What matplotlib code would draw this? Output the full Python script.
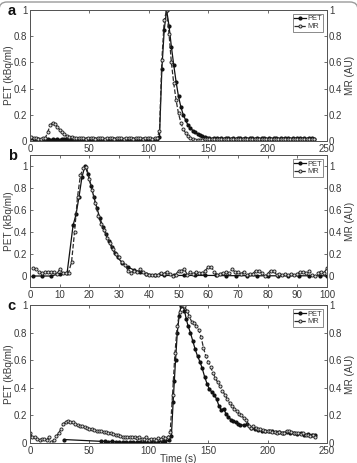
import numpy as np
import matplotlib
matplotlib.use("Agg")
import matplotlib.pyplot as plt
from matplotlib.patches import FancyBboxPatch

# ---------------- data ----------------
# Panel a (sampling every 2 s, 1..239 s)
t_a = np.arange(1, 241, 2)
pet_a = [0.02, 0.015, 0.012, 0.012, 0.01, 0.012, 0.01, 0.012, 0.01, 0.012,
         0.01, 0.012, 0.01, 0.012, 0.015, 0.012, 0.01, 0.012, 0.01, 0.012,
         0.012, 0.01, 0.012, 0.015, 0.01, 0.012, 0.01, 0.012, 0.014, 0.01,
         0.012, 0.01, 0.015, 0.012, 0.01, 0.012, 0.014, 0.01, 0.012, 0.01,
         0.012, 0.015, 0.01, 0.012, 0.01, 0.012, 0.015, 0.012, 0.01, 0.012,
         0.012, 0.01, 0.012, 0.015,
         0.03, 0.55, 0.85, 1.0, 0.88, 0.72, 0.58, 0.45, 0.34, 0.26,
         0.2, 0.16, 0.12, 0.1, 0.08, 0.065, 0.055, 0.045, 0.035, 0.03,
         0.025,
         0.02, 0.018, 0.02, 0.02, 0.018, 0.02, 0.018, 0.02, 0.02, 0.018,
         0.02, 0.018, 0.02, 0.02, 0.018, 0.02, 0.018, 0.02, 0.02, 0.018,
         0.02, 0.018, 0.02, 0.02, 0.018, 0.02, 0.018, 0.02, 0.02, 0.018,
         0.02, 0.018, 0.02, 0.02, 0.018, 0.02, 0.018, 0.02, 0.02, 0.018,
         0.02, 0.018, 0.02, 0.02, 0.018]
mr_a = [0.03, 0.02, 0.02, 0.018, 0.018, 0.02, 0.025, 0.07, 0.12, 0.14,
        0.13, 0.11, 0.085, 0.065, 0.05, 0.04, 0.03, 0.028, 0.025, 0.025,
        0.02, 0.022, 0.02, 0.018, 0.02, 0.022, 0.02, 0.018, 0.02, 0.022,
        0.02, 0.018, 0.02, 0.022, 0.02, 0.018, 0.02, 0.022, 0.02, 0.018,
        0.02, 0.022, 0.02, 0.018, 0.02, 0.022, 0.02, 0.018, 0.02, 0.022,
        0.02, 0.018, 0.02, 0.022,
        0.08, 0.62, 0.92, 1.0, 0.82, 0.6, 0.44, 0.31, 0.21, 0.14,
        0.09, 0.06, 0.04, 0.025, 0.015, 0.01, 0.005, 0.005, 0.01,
        0.015, 0.012, 0.015, 0.018, 0.015, 0.012, 0.015, 0.018, 0.015, 0.012,
        0.015, 0.018, 0.015, 0.012, 0.015, 0.018, 0.015, 0.012, 0.015, 0.018,
        0.015, 0.012, 0.015, 0.018, 0.015, 0.012, 0.015, 0.018, 0.015, 0.012,
        0.015, 0.018, 0.015, 0.012, 0.015, 0.018, 0.015, 0.012, 0.015, 0.018,
        0.015, 0.012, 0.015, 0.018, 0.015, 0.012, 0.015]

# Panel b
t_pet_b = [1, 4, 7, 10, 12.5, 14.5, 15.5, 16.5, 17.5, 18.5,
           19.5, 20.5, 21.5, 22.5, 23.5, 24.5, 25.5, 26.5, 27.5, 28.5,
           29.5, 31, 33, 35, 37, 39, 42, 45, 48.5, 52,
           55.5, 59, 62.5, 66, 69.5, 73, 76.5, 80, 83.5, 87,
           90.5, 94, 97.5, 100]
pet_b = [0.0, 0.0, 0.0, 0.02, 0.03, 0.46, 0.56, 0.72, 0.9, 1.0,
         0.93, 0.82, 0.72, 0.62, 0.53, 0.45, 0.38, 0.32, 0.26, 0.21,
         0.17, 0.12, 0.08, 0.055, 0.035, 0.02, 0.01, 0.005, 0.005, 0.005,
         0.005, 0.005, 0.005, 0.003, 0.003, 0.003, 0.002, 0.002, 0.002, 0.002,
         0.002, 0.002, 0.002, 0.002]
t_mr_b = np.arange(1, 101)
mr_b = [0.07, 0.06, 0.04, 0.03, 0.04, 0.04, 0.035, 0.04, 0.02, 0.06,
        0.03, 0.03, 0.03, 0.13, 0.4, 0.72, 0.92, 0.98, 0.99, 0.88,
        0.78, 0.66, 0.55, 0.47, 0.42, 0.35, 0.3, 0.25, 0.2, 0.17,
        0.13, 0.1, 0.05, 0.03, 0.05, 0.04, 0.06, 0.04, 0.02, 0.01,
        0.005, 0.01, 0.01, 0.03, 0.02, 0.04, 0.02, 0.0, 0.01, 0.05,
        0.05, 0.06, 0.01, 0.04, 0.02, 0.04, 0.03, 0.03, 0.05, 0.08,
        0.085, 0.04, 0.01, 0.02, 0.03, 0.04, 0.03, 0.06, 0.04, 0.04,
        0.02, 0.04, 0.01, 0.02, 0.02, 0.05, 0.05, 0.03, 0.0, 0.02,
        0.05, 0.05, 0.01, 0.02, 0.01, 0.02, 0.01, 0.02, 0.01, 0.02,
        0.04, 0.04, 0.03, 0.05, 0.01, 0.0, 0.03, 0.04, 0.03, 0.07]

# Panel c
t_pet_c = [29, 60, 63, 66, 69, 72, 75, 78, 81, 84,
           87, 90, 93, 96, 99, 102, 105, 108, 111, 114,
           117, 119, 120.5, 121.5, 122.5, 124, 125.5, 127, 128.5, 130,
           131.5, 133, 135, 137, 139, 141, 143, 145, 147, 149,
           151, 153, 155, 157, 159, 161, 163, 165, 167, 169,
           171, 173, 175, 177, 180, 183, 186, 189, 192, 195,
           198, 201, 204, 207, 210, 213, 216, 219, 222, 225,
           228, 231, 234, 237, 240]
pet_c = [0.025, 0.012, 0.012, 0.01, 0.012, 0.008, 0.006, 0.006, 0.005, 0.006,
         0.005, 0.005, 0.006, 0.004, 0.005, 0.01, 0.008, 0.01, 0.012, 0.015,
         0.02, 0.05, 0.3, 0.45, 0.6, 0.8, 0.92, 0.99, 1.0, 0.96,
         0.9, 0.85, 0.8, 0.74, 0.68, 0.63, 0.59, 0.54, 0.48, 0.43,
         0.39, 0.37, 0.35, 0.32, 0.27, 0.24, 0.25, 0.21, 0.19, 0.17,
         0.16, 0.15, 0.14, 0.13, 0.13, 0.135, 0.11, 0.1, 0.095, 0.09,
         0.09, 0.085, 0.085, 0.08, 0.08, 0.075, 0.08, 0.07, 0.07, 0.065,
         0.07, 0.06, 0.065, 0.06, 0.06]
t_mr_c = np.arange(0, 241, 2)
mr_c = [0.07, 0.045, 0.04, 0.03, 0.025, 0.03, 0.03, 0.025, 0.04, 0.01,
        0.02, 0.05, 0.07, 0.1, 0.14, 0.155, 0.16, 0.15, 0.15, 0.14,
        0.13, 0.125, 0.12, 0.115, 0.11, 0.105, 0.1, 0.095, 0.09, 0.09,
        0.085, 0.08, 0.08, 0.075, 0.07, 0.065, 0.06, 0.06, 0.05, 0.045,
        0.045, 0.04, 0.045, 0.04, 0.04, 0.035, 0.04, 0.03, 0.03, 0.04,
        0.025, 0.03, 0.03, 0.02, 0.035, 0.03, 0.04, 0.035, 0.04, 0.08,
        0.35, 0.65, 0.85, 0.95, 1.0, 0.99, 0.96, 0.92, 0.88, 0.87,
        0.85, 0.82, 0.77, 0.69, 0.63, 0.59, 0.55, 0.51, 0.47, 0.44,
        0.41, 0.38, 0.35, 0.32, 0.29, 0.27, 0.25, 0.23, 0.21, 0.2,
        0.18, 0.17, 0.12, 0.11, 0.12, 0.11, 0.1, 0.1, 0.095, 0.09,
        0.09, 0.085, 0.08, 0.08, 0.075, 0.08, 0.07, 0.075, 0.09, 0.085,
        0.08, 0.075, 0.07, 0.07, 0.065, 0.07, 0.06, 0.06, 0.05, 0.06,
        0.04]

yticks_lbl = ["0", "0.2", "0.4", "0.6", "0.8", "1"]
yticks = [0, 0.2, 0.4, 0.6, 0.8, 1.0]

# ---------------- plotting ----------------
TXT = "#3a3a3a"
plt.rcParams["font.family"] = ["Liberation Sans", "DejaVu Sans"]
fig = plt.figure(figsize=(3.57, 4.63), dpi=100)

# rounded frame (only the top edge falls inside the picture)
frame = FancyBboxPatch((-0.01, -0.5), 3.59, 4.61 + 0.5,
                       boxstyle="round,pad=0,rounding_size=0.08",
                       transform=fig.dpi_scale_trans, fc="none",
                       ec="#9a9a9a", lw=1.0)
fig.patches.append(frame)

L, W = 30 / 357, 297 / 357
def rect(top_px, bot_px):
    return [L, 1 - bot_px / 463, W, (bot_px - top_px) / 463]

panels = [
    dict(r=rect(10, 141), xlim=(0, 250), xt=np.arange(0, 251, 50), ylim=(0, 1),
         pet=(t_a, pet_a), mr=(t_a, mr_a), letter="a", xlabel=None),
    dict(r=rect(155, 287), xlim=(0, 100), xt=np.arange(0, 101, 10), ylim=(-0.1, 1.1),
         pet=(t_pet_b, pet_b), mr=(t_mr_b, mr_b), letter="b", xlabel=None),
    dict(r=rect(305, 443), xlim=(0, 250), xt=np.arange(0, 251, 50), ylim=(0, 1),
         pet=(t_pet_c, pet_c), mr=(t_mr_c, mr_c), letter="c", xlabel="Time (s)"),
]

fs = 7
for p in panels:
    ax = fig.add_axes(p["r"])
    ax2 = ax.twinx()
    ax.set_zorder(ax2.get_zorder() + 1)
    ax.patch.set_visible(False)
    ax.plot(p["pet"][0], p["pet"][1], "-", color="#111111", lw=0.9,
            marker=".", ms=4, mec="#111111", label="PET")
    ax.plot(p["mr"][0], p["mr"][1], "--", color="#2a2a2a", lw=0.9,
            marker="o", ms=2.2, mfc="#dddddd", mec="#2a2a2a", mew=0.7, label="MR")
    for a in (ax, ax2):
        a.set_xlim(*p["xlim"])
        a.set_ylim(*p["ylim"])
        a.set_yticks(yticks)
        a.set_yticklabels(yticks_lbl)
        for s in a.spines.values():
            s.set_color("#555555")
            s.set_linewidth(0.7)
    ax.set_xticks(p["xt"])
    ax.tick_params(direction="in", top=True, length=2.5, width=0.6,
                   labelsize=fs, colors="#555555", labelcolor=TXT, pad=2)
    ax2.tick_params(direction="in", length=2.5, width=0.6,
                    labelsize=fs, colors="#555555", labelcolor=TXT, pad=1.5)
    ax.set_ylabel("PET (kBq/ml)", fontsize=fs + 0.2, color=TXT, labelpad=0)
    ax2.set_ylabel("MR (AU)", fontsize=fs + 0.2, color=TXT, labelpad=1.5)
    if p["xlabel"]:
        ax.set_xlabel(p["xlabel"], fontsize=fs + 0.2, color=TXT, labelpad=-1.5)
    leg = ax.legend(loc="upper right", fontsize=5.4, frameon=True, fancybox=False,
                    handlelength=1.5, handletextpad=0.2, borderpad=0.2,
                    labelspacing=0.05, borderaxespad=0.5)
    leg.get_frame().set_edgecolor("#555555")
    leg.get_frame().set_linewidth(0.6)
    for tx in leg.get_texts():
        tx.set_color(TXT)
    r = p["r"]
    fig.text(0.022, r[1] + r[3] - 0.002, p["letter"], fontsize=10.5,
             fontweight="bold", color="#111111", va="center", ha="left")

fig.savefig("out.png", dpi=100)
